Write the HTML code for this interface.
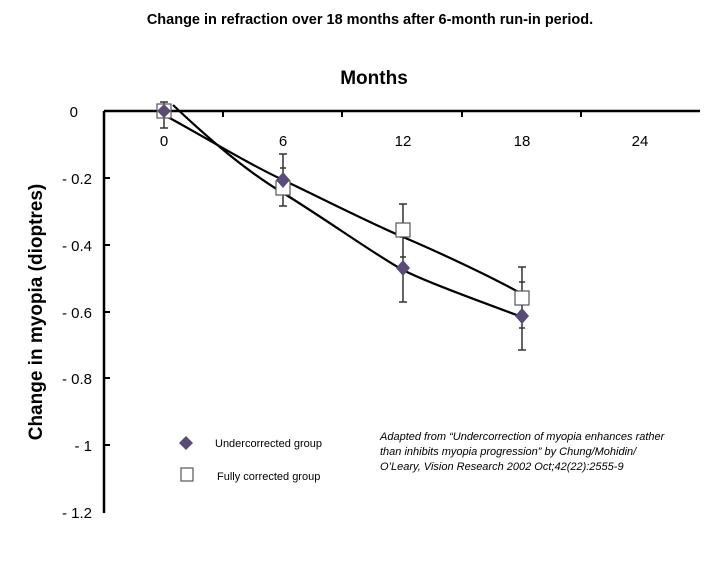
<!DOCTYPE html>
<html><head><style>body{margin:0;background:#fff}</style></head><body>
<svg width="727" height="572" xmlns="http://www.w3.org/2000/svg" font-family="Liberation Sans, Arial, sans-serif">
<rect width="727" height="572" fill="#fff"/>
<text x="370" y="24" font-size="14.5" font-weight="bold" text-anchor="middle">Change in refraction over 18 months after 6-month run-in period.</text>
<text x="374" y="84" font-size="19" font-weight="bold" text-anchor="middle">Months</text>
<text transform="translate(42,312) rotate(-90)" font-size="19" font-weight="bold" text-anchor="middle">Change in myopia (dioptres)</text>
<g stroke="#000" stroke-width="2.5">
<line x1="104" y1="111" x2="700" y2="111"/>
<line x1="104" y1="111" x2="104" y2="513"/>
</g>
<g stroke="#000" stroke-width="2">
<line x1="223" y1="111" x2="223" y2="117"/><line x1="342" y1="111" x2="342" y2="117"/><line x1="462" y1="111" x2="462" y2="117"/><line x1="581" y1="111" x2="581" y2="117"/>
<line x1="104" y1="178" x2="110" y2="178"/><line x1="104" y1="245" x2="110" y2="245"/><line x1="104" y1="312" x2="110" y2="312"/><line x1="104" y1="378" x2="110" y2="378"/><line x1="104" y1="445" x2="110" y2="445"/>
</g>
<g font-size="15" text-anchor="middle">
<text x="164" y="146">0</text><text x="283" y="146">6</text><text x="403" y="146">12</text><text x="522" y="146">18</text><text x="640" y="146">24</text>
</g>
<g font-size="15" text-anchor="end">
<text x="78" y="117">0</text><text x="92" y="184">- 0.2</text><text x="92" y="251">- 0.4</text><text x="92" y="318">- 0.6</text><text x="92" y="384">- 0.8</text><text x="92" y="451">- 1</text><text x="92" y="518">- 1.2</text>
</g>
<g stroke="#333" stroke-width="1.5">
<line x1="164" y1="102" x2="164" y2="128"/><line x1="160" y1="128" x2="168" y2="128"/><line x1="160" y1="102" x2="168" y2="102"/>
<line x1="283" y1="154" x2="283" y2="206"/><line x1="279" y1="154" x2="287" y2="154"/><line x1="279" y1="206" x2="287" y2="206"/><line x1="280" y1="168" x2="286" y2="168"/>
<line x1="403" y1="204" x2="403" y2="302"/><line x1="399" y1="204" x2="407" y2="204"/><line x1="399" y1="302" x2="407" y2="302"/><line x1="400" y1="237" x2="406" y2="237"/><line x1="400" y1="257" x2="406" y2="257"/>
<line x1="522" y1="267" x2="522" y2="350"/><line x1="518" y1="267" x2="526" y2="267"/><line x1="518" y1="350" x2="526" y2="350"/><line x1="519" y1="282" x2="525" y2="282"/><line x1="519" y1="328" x2="525" y2="328"/>
</g>
<g fill="none" stroke="#000" stroke-width="2.2">
<path d="M173 105 C210 140 245 170 283 193 S380 258 403 270 S490 305 522 317"/>
<path d="M166 116 C210 140 245 162 283 180 S370 223 403 237 S490 276 522 294"/>
</g>
<g fill="#fff" stroke="#555" stroke-width="1.2">
<rect x="157" y="104" width="14" height="14"/><rect x="276" y="181" width="14" height="14"/><rect x="396" y="223" width="14" height="14"/><rect x="515" y="291" width="14" height="14"/>
</g>
<g fill="#5a4a78">
<path d="M164 104l7 7-7 7-7-7z"/><path d="M283 172l7 8-7 8-7-8z"/><path d="M403 260l7 8-7 8-7-8z"/><path d="M522 308l7 8-7 8-7-8z"/>
<path d="M186 436l7 7-7 7-7-7z"/>
</g>
<rect x="181" y="468" width="12" height="13" fill="#fff" stroke="#555" stroke-width="1.2"/>
<text x="215" y="447" font-size="11">Undercorrected group</text>
<text x="217" y="480" font-size="11">Fully corrected group</text>
<g font-size="11" font-style="italic">
<text x="380" y="440">Adapted from “Undercorrection of myopia enhances rather</text>
<text x="380" y="455">than inhibits myopia progression” by Chung/Mohidin/</text>
<text x="380" y="470">O’Leary, Vision Research 2002 Oct;42(22):2555-9</text>
</g>
</svg>
</body></html>
